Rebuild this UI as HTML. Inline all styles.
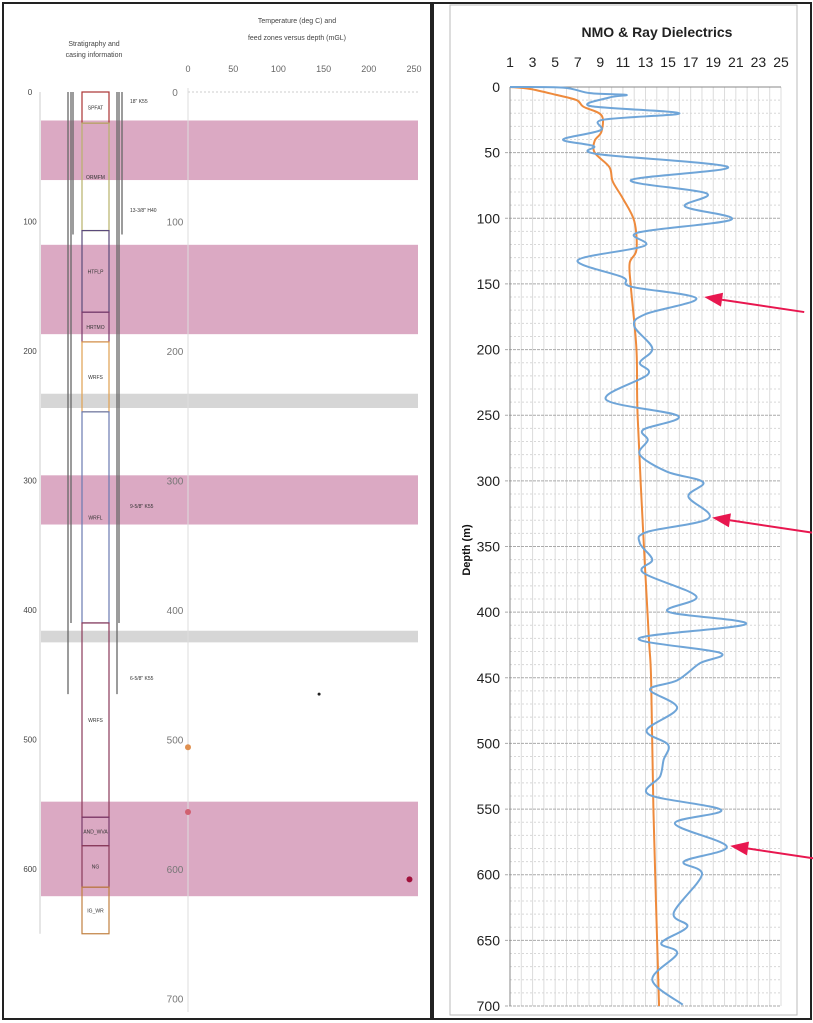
<!DOCTYPE html>
<html><head><meta charset="utf-8">
<style>
html,body{margin:0;padding:0;background:#fff;width:813px;height:1023px;overflow:hidden;font-family:"Liberation Sans",sans-serif;}
svg{position:absolute;left:0;top:0;}
</style></head>
<body>
<svg id="root" width="813" height="1023" viewBox="0 0 813 1023" xmlns="http://www.w3.org/2000/svg">
  <rect x="3" y="3" width="428" height="1016" fill="none" stroke="#222" stroke-width="2"/>
  <rect x="433" y="3" width="378" height="1016" fill="none" stroke="#222" stroke-width="2"/>
  <rect x="450" y="5" width="347" height="1010" fill="none" stroke="#bbb" stroke-width="1"/>
  <g id="left"></g>
  <g id="right"></g>
</svg>
<script>
// ---------- Right chart data ----------
const xTicks = [1,3,5,7,9,11,13,15,17,19,21,23,25];
const yTicks = [0,50,100,150,200,250,300,350,400,450,500,550,600,650,700];
const nmoDepth = [0,0.5,4.7,6,8,14.5,20,25,33,40,45,51,61,71,81,91,101,111,121,132,145,152,161,173,182,199,210,219,238,250.6,261,269,280,293,301,312,328.5,339,347.5,360,370,388,399.6,409,420,431,439,452,459,473,490,501,512.6,525,539,550.7,561,578.6,590,600,629,639.5,652,660,680,699];
const nmoValue = [1,5.7,8.1,11.3,9.8,8.1,16,9.2,9,5.7,8.4,8.7,20.3,11.7,18.4,16.5,20.6,12.3,12.9,7,11,11.7,17.5,13,12,13.6,12.5,13.2,9.5,15.9,12.8,13.2,12.5,14.9,18.1,16.8,18.6,13.1,12.5,13.6,12.8,17.5,15,21.9,12.4,19.6,17.8,15.8,13.4,15.8,13.1,15,14.6,14.3,13.3,19.7,15.6,20.2,16.4,18,15.5,16.7,14.4,15.8,13.6,16.3];
const rayDepth = [0,1.5,6,10,15,21.5,34,41,50,61,72,85,102,124,134,152,200,250,340,420,452,550,700];
const rayValue = [1,2.8,5.1,6.9,7.5,9.1,9.1,8.5,8.5,9.8,10.1,11,12,12.2,11.6,11.7,12.2,12.3,12.8,13.3,13.5,13.7,14.2];
const arrowDepths = [160,328,578];
const arrowValues = [18.2,18.9,20.5];

// ---------- Left panel data ----------
const feedZoneTops = [22,118,296,548];
const feedZoneBottoms = [68,187,334,621];
const lossZoneTops = [233,416];
const lossZoneBottoms = [244,425];
const leftDepthTicks = [0,100,200,300,400,500,600];
const tempTicks = [0,50,100,150,200,250];
const tempDepthTicks = [0,100,200,300,400,500,600,700];
const formNames = ["SPFAT","ORMFM","HTFLP","HRTMO","WRFS","WRFL","WRFS","AND_WVA","NG","IG_WR"];
const formTops = [0,24,107,170,193,247,410,560,582,614];
const formBottoms = [24,107,170,193,247,410,560,582,614,650];
const formColors = ["#a33","#b8b26a","#5a4a7a","#7a3a6a","#e0a050","#6a7ab0","#8a3a5a","#7a3a6a","#8a3a5a","#c08040"];
const dotTemps = [0,0,245,145];
const dotDepths = [506,556,608,465];
const dotColors = ["#e09050","#d06070","#a0103a","#222"];

const NS="http://www.w3.org/2000/svg";
function mk(parent,tag,attrs){const e=document.createElementNS(NS,tag);for(const k in attrs)e.setAttribute(k,attrs[k]);parent.appendChild(e);return e;}

// ===== Right chart =====
const R=document.getElementById('right');
const X0=510,X1=781,Y0=87,Y1=1006;
const xs=v=>X0+(v-1)/24*(X1-X0);
const ys=d=>Y0+d/700*(Y1-Y0);
for(let v=1;v<=25;v++){
  const l=mk(R,'line',{x1:xs(v),x2:xs(v),y1:Y0,y2:Y1,stroke:'#dcdcdc','stroke-width':1});
  
  
}
for(let d=10;d<=700;d+=10){
  const major=d%50===0;
  const l=mk(R,'line',{x1:X0-(major?5:0),x2:X1,y1:ys(d),y2:ys(d),stroke:major?'#aaa':'#d8d8d8','stroke-width':1,'stroke-dasharray':major?'3,1':'2,2'});
  
  
}
const ax=mk(R,'line',{x1:X0,x2:X1,y1:Y0,y2:Y0,stroke:'#888','stroke-width':1});


const ay=mk(R,'line',{x1:X0,x2:X0,y1:Y0,y2:Y1,stroke:'#888','stroke-width':1});


xTicks.forEach(v=>{const t=mk(R,'text',{x:xs(v),y:67,'font-size':14,'text-anchor':'middle',fill:'#222'});t.textContent=v;
  
  });
yTicks.forEach(d=>{const t=mk(R,'text',{x:500,y:ys(d)+5,'font-size':14,'text-anchor':'end',fill:'#222'});t.textContent=d;
  
  });
const title=mk(R,'text',{x:657,y:37,'font-size':14,'font-weight':'bold','text-anchor':'middle',fill:'#222'});title.textContent='NMO & Ray Dielectrics';


const yl=mk(R,'text',{x:470,y:550,'font-size':11,'font-weight':'bold','text-anchor':'middle',fill:'#111',transform:'rotate(-90 470 550)'});yl.textContent='Depth (m)';


function smoothPath(xsArr,ysArr){
  const p=xsArr.map((x,i)=>[x,ysArr[i]]);
  let d=`M${p[0][0]},${p[0][1]}`;
  for(let i=0;i<p.length-1;i++){
    const p0=p[i-1]||p[i],p1=p[i],p2=p[i+1],p3=p[i+2]||p2;
    const c1x=p1[0]+(p2[0]-p0[0])/6,c1y=p1[1]+(p2[1]-p0[1])/6;
    const c2x=p2[0]-(p3[0]-p1[0])/6,c2y=p2[1]-(p3[1]-p1[1])/6;
    d+=` C${c1x},${c1y} ${c2x},${c2y} ${p2[0]},${p2[1]}`;
  }
  return d;
}
const rayP=mk(R,'path',{d:smoothPath(rayValue.map(xs),rayDepth.map(ys)),fill:'none',stroke:'#ee8a3c','stroke-width':2});


const nmoP=mk(R,'path',{d:smoothPath(nmoValue.map(xs),nmoDepth.map(ys)),fill:'none',stroke:'#6fa5d8','stroke-width':2});


arrowDepths.forEach((d,i)=>{
  const tx=xs(arrowValues[i]),ty=ys(d);
  const sx=tx+100,sy=ty+15;
  const ang=Math.atan2(sy-ty,sx-tx);
  const g=mk(R,'g',{});
  
  
  const bx=tx+18*Math.cos(ang),by=ty+18*Math.sin(ang);
  mk(g,'line',{x1:sx,y1:sy,x2:bx,y2:by,stroke:'#e8174f','stroke-width':2});
  const px=-Math.sin(ang)*7,py=Math.cos(ang)*7;
  mk(g,'polygon',{points:`${tx},${ty} ${bx+px},${by+py} ${bx-px},${by-py}`,fill:'#e8174f'});
});

// ===== Left panel =====
const L=document.getElementById('left');
const ly=d=>92+d*1.295;
feedZoneTops.forEach((t,i)=>{const r=mk(L,'rect',{x:41,y:ly(t),width:377,height:ly(feedZoneBottoms[i])-ly(t),fill:'#dba9c3'});
  
  });
lossZoneTops.forEach((t,i)=>{const r=mk(L,'rect',{x:41,y:ly(t),width:377,height:ly(lossZoneBottoms[i])-ly(t),fill:'#d6d6d6'});
  
  });
const la=mk(L,'line',{x1:40,x2:40,y1:92,y2:ly(650),stroke:'#ccc','stroke-width':1});


leftDepthTicks.forEach(d=>{const t=mk(L,'text',{x:30,y:ly(d)+3,'font-size':8,'text-anchor':'middle',fill:'#444'});t.textContent=d;
  
  });
[[68,465],[71,410],[73,110],[117,465],[119,410],[122,110]].forEach((a,i)=>{const c=mk(L,'line',{x1:a[0],x2:a[0],y1:92,y2:ly(a[1]),stroke:'#666','stroke-width':1.3});
  
  });
formNames.forEach((n,i)=>{
  const r=mk(L,'rect',{x:82,y:ly(formTops[i]),width:27,height:ly(formBottoms[i])-ly(formTops[i]),fill:'none',stroke:formColors[i],'stroke-width':1.2});
  
  
  const t=mk(L,'text',{x:95.5,y:(ly(formTops[i])+ly(formBottoms[i]))/2+2,'font-size':5,'text-anchor':'middle',fill:'#333'});t.textContent=n;
  
  
});
[["18\" K55",103],["13-3/8\" H40",212],["9-5/8\" K55",508],["6-5/8\" K55",680]].forEach(a=>{const t=mk(L,'text',{x:130,y:a[1],'font-size':5,fill:'#333'});t.textContent=a[0];
  
  });
[["Stratigraphy and",46,94],["casing information",57,94],["Temperature (deg C) and",23,297],["feed zones versus depth (mGL)",40,297]].forEach(a=>{const t=mk(L,'text',{x:a[2],y:a[1],'font-size':7,'text-anchor':'middle',fill:'#444'});t.textContent=a[0];
  
  });
const tx0=188,tx1=414;
const tsx=v=>tx0+v/250*(tx1-tx0);
tempTicks.forEach(v=>{const t=mk(L,'text',{x:tsx(v),y:72,'font-size':9,'text-anchor':'middle',fill:'#666'});t.textContent=v;
  
  });
const tl=mk(L,'line',{x1:tx0,x2:418,y1:92,y2:92,stroke:'#ccc','stroke-dasharray':'2,2'});


const tv=mk(L,'line',{x1:tx0,x2:tx0,y1:88,y2:1012,stroke:'#ddd'});


tempDepthTicks.forEach(d=>{const t=mk(L,'text',{x:175,y:ly(d)+4,'font-size':10,'text-anchor':'middle',fill:'#777'});t.textContent=d;
  
  });
dotTemps.forEach((v,i)=>{const c=mk(L,'circle',{cx:tsx(v),cy:ly(dotDepths[i]),r:i===3?1.5:3,fill:dotColors[i]});
  
  });
</script>
</body></html>
